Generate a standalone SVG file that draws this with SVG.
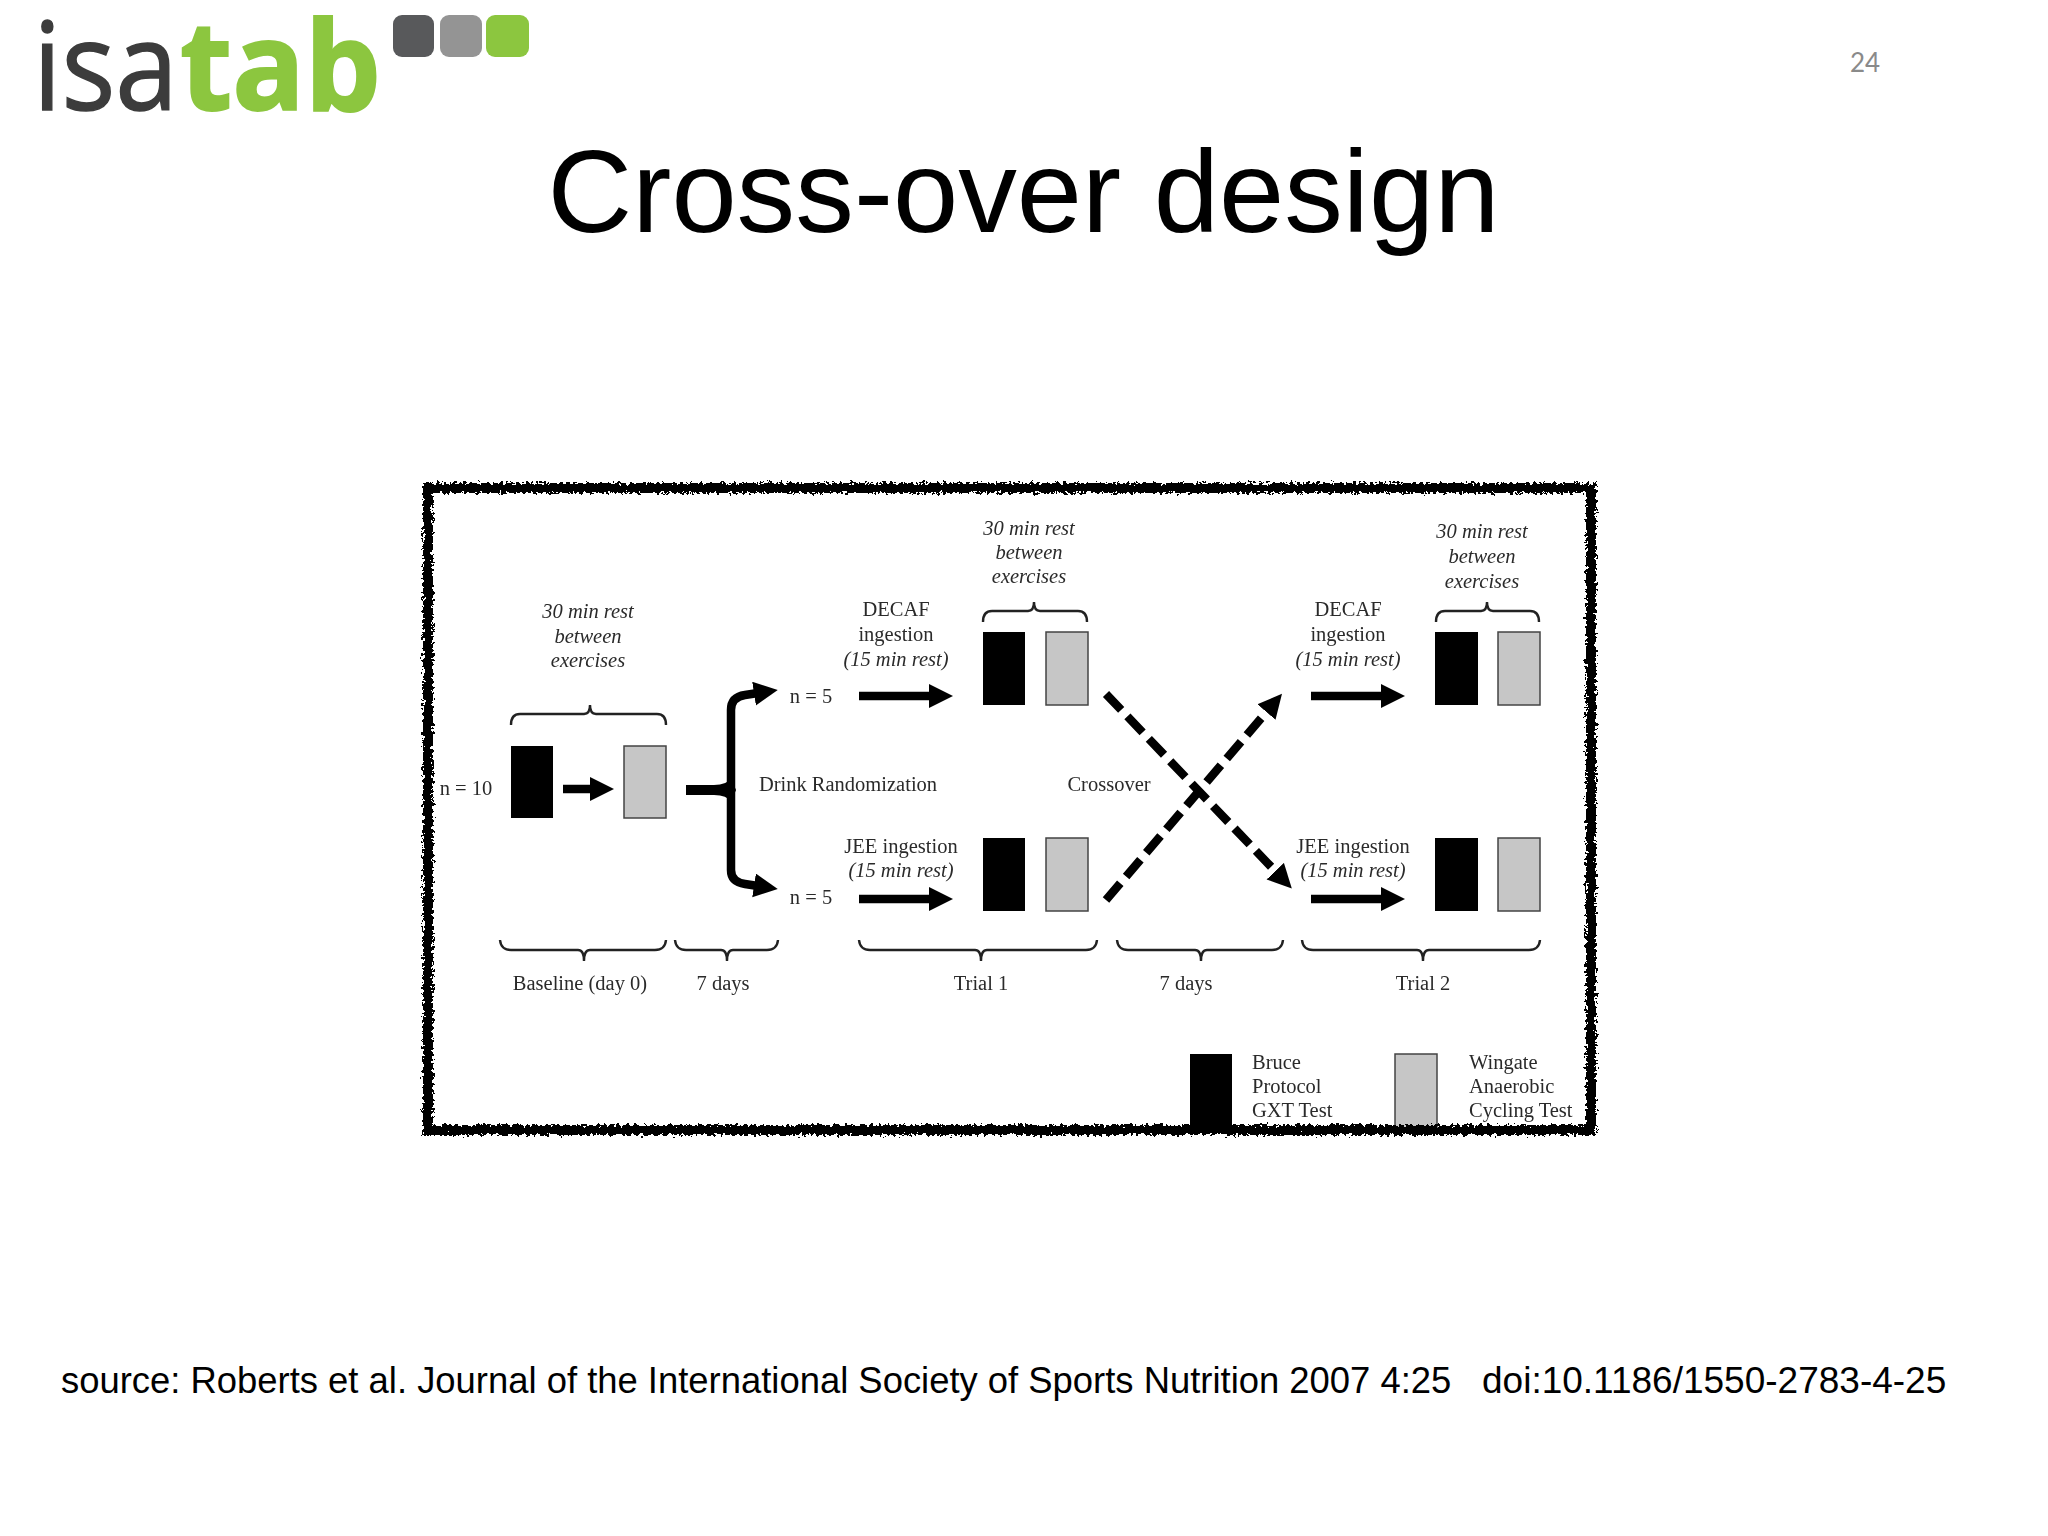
<svg xmlns="http://www.w3.org/2000/svg" width="2048" height="1536" viewBox="0 0 2048 1536">
<style>
.h{font-family:"Liberation Sans",Arial,sans-serif;fill:#000}
.f{font-family:"Liberation Serif","Times New Roman",serif;font-size:20.5px;fill:#2a2a2a;text-anchor:middle}
.l{text-anchor:start}
.i{font-style:italic}
.bk{fill:#000}
.gr{fill:#c6c6c6;stroke:#444;stroke-width:1.5}
.br{fill:none;stroke:#222;stroke-width:2.4}
.ar{fill:none;stroke:#000;stroke-width:8.5}
.da{fill:none;stroke:#000;stroke-width:8.5;stroke-dasharray:22 9}
</style>
<defs>
<marker id="head" markerUnits="userSpaceOnUse" markerWidth="26" markerHeight="26" refX="4" refY="12" orient="auto"><path d="M0 0L24 12L0 24Z" fill="#000"/></marker>
<filter id="rough" x="-3%" y="-3%" width="106%" height="106%"><feTurbulence type="fractalNoise" baseFrequency="0.3" numOctaves="3" seed="4" result="n"/><feDisplacementMap in="SourceGraphic" in2="n" scale="9" xChannelSelector="R" yChannelSelector="G"/></filter>
<filter id="soft" x="-2%" y="-2%" width="104%" height="104%"><feGaussianBlur stdDeviation="0.5"/></filter>
</defs>
<rect width="2048" height="1536" fill="#fff"/>

<g id="logo">
<text x="33" y="110" font-family="'Open Sans',sans-serif" font-size="123" fill="#3c3c3c" stroke="#3c3c3c" stroke-width="1.5" textLength="145" lengthAdjust="spacingAndGlyphs">isa</text>
<text x="180" y="110" font-family="'Open Sans',sans-serif" font-weight="700" font-size="123" fill="#8cc63f" stroke="#8cc63f" stroke-width="2" textLength="201" lengthAdjust="spacingAndGlyphs">tab</text>
<rect x="393" y="15" width="41" height="42" rx="9" fill="#58595b"/>
<rect x="440" y="15" width="42" height="42" rx="9" fill="#949494"/>
<rect x="486" y="15" width="43" height="42" rx="9" fill="#8cc63f"/>
</g>
<text id="page" x="1865" y="72" font-family="Lato,sans-serif" font-size="26" fill="#8a8a8a" text-anchor="middle">24</text>
<text id="title" class="h" x="1023.500" y="232" font-size="117.300" text-anchor="middle">Cross-over design</text>
<text id="source" class="h" x="61" y="1393" font-size="36.420">source: Roberts et al. Journal of the International Society of Sports Nutrition 2007 4:25 <tspan x="1482" font-size="37">doi:10.1186/1550-2783-4-25</tspan></text>

<g id="figure" filter="url(#soft)">
<g id="legend-bruce">
<rect class="bk" x="1190" y="1054" width="42" height="74"/>
<text class="f l" x="1252" y="1069">Bruce</text><text class="f l" x="1252" y="1093">Protocol</text><text class="f l" x="1252" y="1117">GXT Test</text>
</g>
<g id="legend-wingate">
<rect class="gr" x="1395" y="1054" width="42" height="74"/>
<text class="f l" x="1469" y="1069">Wingate</text><text class="f l" x="1469" y="1093">Anaerobic</text><text class="f l" x="1469" y="1117">Cycling Test</text>
</g>

<rect id="frame" x="428" y="488" width="1163" height="642" fill="none" stroke="#000" stroke-width="10" filter="url(#rough)"/>

<g id="connectors">
<line class="ar" x1="563" y1="789" x2="594" y2="789" marker-end="url(#head)"/>
<path d="M686 785L714 785Q727 785 731 778L736 790L731 802Q727 795 714 795L686 795Z" fill="#000"/>
<path class="ar" d="M731 790V710Q731 697 745 695L758 693" marker-end="url(#head)"/>
<path class="ar" d="M731 790V870Q731 882 745 884L758 886" marker-end="url(#head)"/>
<line class="ar" x1="859" y1="696" x2="933" y2="696" marker-end="url(#head)"/>
<line class="ar" x1="859" y1="899" x2="933" y2="899" marker-end="url(#head)"/>
<line class="ar" x1="1311" y1="696" x2="1385" y2="696" marker-end="url(#head)"/>
<line class="ar" x1="1311" y1="899" x2="1385" y2="899" marker-end="url(#head)"/>
<line class="da" x1="1106" y1="694" x2="1278" y2="874" marker-end="url(#head)"/>
<line class="da" x1="1106" y1="900" x2="1269" y2="709" marker-end="url(#head)"/>
<path class="br" d="M511 725Q511 714 520 714H584Q590 714 590 705Q590 714 596 714H657Q666 714 666 725"/>
<path class="br" d="M983 622Q983 611 992 611H1028Q1034 611 1034 602Q1034 611 1040 611H1078Q1087 611 1087 622"/>
<path class="br" d="M1436 622Q1436 611 1445 611H1481Q1487 611 1487 602Q1487 611 1493 611H1530Q1539 611 1539 622"/>
<path class="br" d="M500 940Q501 950 511 950H578Q584 950 584 961Q584 950 590 950H655Q665 950 666 940"/>
<path class="br" d="M675 940Q676 950 686 950H721Q727 950 727 961Q727 950 733 950H767Q777 950 778 940"/>
<path class="br" d="M859 940Q860 950 870 950H975Q981 950 981 961Q981 950 987 950H1086Q1096 950 1097 940"/>
<path class="br" d="M1117 940Q1118 950 1128 950H1195Q1201 950 1201 961Q1201 950 1207 950H1272Q1282 950 1283 940"/>
<path class="br" d="M1302 940Q1303 950 1313 950H1417Q1423 950 1423 961Q1423 950 1429 950H1529Q1539 950 1540 940"/>
</g>

<g id="baseline">
<text class="f" x="466" y="795">n = 10</text>
<rect class="bk" x="511" y="746" width="42" height="72"/>
<rect class="gr" x="624" y="746" width="42" height="72"/>
<text class="f i" x="588" y="618">30 min rest</text><text class="f i" x="588" y="643">between</text><text class="f i" x="588" y="667">exercises</text>
</g>
<g id="randomization">
<text class="f" x="848" y="791">Drink Randomization</text>
<text class="f" x="811" y="703">n = 5</text>
<text class="f" x="811" y="904">n = 5</text>
</g>
<g id="trial1-decaf">
<text class="f" x="896" y="616">DECAF</text><text class="f" x="896" y="641">ingestion</text><text class="f i" x="896" y="666">(15 min rest)</text>
<rect class="bk" x="983" y="632" width="42" height="73"/>
<rect class="gr" x="1046" y="632" width="42" height="73"/>
<text class="f i" x="1029" y="535">30 min rest</text><text class="f i" x="1029" y="559">between</text><text class="f i" x="1029" y="583">exercises</text>
</g>
<g id="trial1-jee">
<text class="f" x="901" y="853">JEE ingestion</text><text class="f i" x="901" y="877">(15 min rest)</text>
<rect class="bk" x="983" y="838" width="42" height="73"/>
<rect class="gr" x="1046" y="838" width="42" height="73"/>
</g>
<text id="crossover" class="f" x="1109" y="791">Crossover</text>
<g id="trial2-decaf">
<text class="f" x="1348" y="616">DECAF</text><text class="f" x="1348" y="641">ingestion</text><text class="f i" x="1348" y="666">(15 min rest)</text>
<rect class="bk" x="1435" y="632" width="43" height="73"/>
<rect class="gr" x="1498" y="632" width="42" height="73"/>
<text class="f i" x="1482" y="538">30 min rest</text><text class="f i" x="1482" y="563">between</text><text class="f i" x="1482" y="588">exercises</text>
</g>
<g id="trial2-jee">
<text class="f" x="1353" y="853">JEE ingestion</text><text class="f i" x="1353" y="877">(15 min rest)</text>
<rect class="bk" x="1435" y="838" width="43" height="73"/>
<rect class="gr" x="1498" y="838" width="42" height="73"/>
</g>
<g id="phases">
<text class="f" x="580" y="990">Baseline (day 0)</text>
<text class="f" x="723" y="990">7 days</text>
<text class="f" x="981" y="990">Trial 1</text>
<text class="f" x="1186" y="990">7 days</text>
<text class="f" x="1423" y="990">Trial 2</text>
</g>
</g>
</svg>
